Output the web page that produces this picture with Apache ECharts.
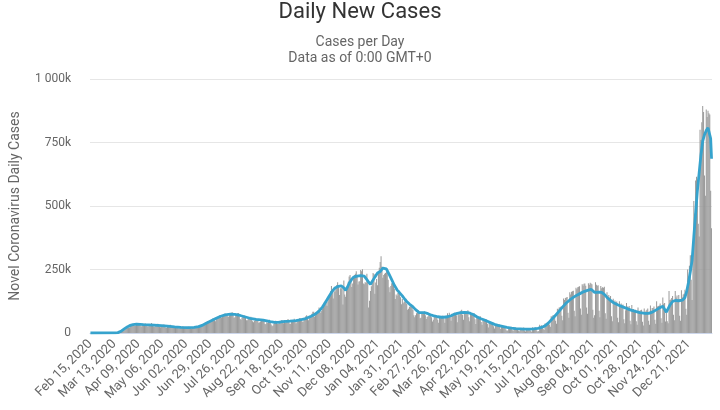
<!DOCTYPE html>
<html><head><meta charset="utf-8">
<script src="https://cdn.jsdelivr.net/npm/echarts/dist/echarts.min.js"></script>
<style>html,body{margin:0;padding:0;background:#fff}#c{width:720px;height:410px}</style>
</head><body><div id="c"></div>
<script>
// first day of the series: Feb 15, 2020
const startDate = [2020, 1, 15];
const monthNames = ['Jan','Feb','Mar','Apr','May','Jun','Jul','Aug','Sep','Oct','Nov','Dec'];

// daily new cases (thousands), one row per week starting Saturday
const dailyCases = [
0,0,0,0,0,0,0,
0,0,0,0,0,0,0,
0,0,0,0,0,0.1,0.1,
0.1,0.1,0.2,0.3,0.4,0.5,0.7,
0.9,1.2,1.8,2.6,4.5,5.7,6.2,
9,10,11,11,13,17,19,
20,20,22,26,29,30,32,
34,29,30,33,34,36,37,
33,27,27,31,33,36,37,
32,27,26,30,33,35,39,
33,27,25,28,31,34,36,
30,25,23,27,29,32,33,
27,22,21,25,28,30,32,
26,20,21,23,26,28,28,
24,20,18,20,22,25,26,
25,20,19,21,22,24,25,
23,19,18,21,23,24,26,
26,20,20,24,27,29,31,
33,28,32,37,38,41,46,
45,40,43,47,52,57,56,
50,46,56,61,62,62,70,
66,61,63,68,70,77,75,
70,66,64,70,78,80,82,
70,60,62,70,75,78,79,
66,55,52,60,64,67,69,
60,50,50,55,57,56,64,
57,46,42,48,51,52,54,
50,40,42,45,48,50,52,
46,35,34,42,40,46,52,
43,33,27,30,37,40,48,
42,36,35,40,42,46,51,
44,38,50,41,42,47,55,
47,36,36,44,44,50,56,
49,37,42,50,52,58,58,
53,45,44,54,60,66,70,
57,50,66,63,63,76,84,
84,64,70,76,81,91,100,
86,80,88,94,107,122,128,
126,107,124,137,145,164,185,
162,136,164,163,172,189,200,
180,150,176,176,184,112,207,
152,143,166,186,202,222,228,
215,181,195,223,228,233,243,
220,191,203,204,248,243,251,
195,192,200,198,233,203,100,
127,165,184,207,236,232,155,
199,213,188,237,257,280,302,
262,218,228,233,236,240,248,
210,180,160,185,196,200,196,
174,134,152,147,157,169,163,
141,113,134,117,123,125,135,
115,92,95,103,104,112,107,
92,70,62,70,78,82,90,
75,58,60,78,80,82,85,
70,55,63,66,74,73,74,
62,45,52,66,64,69,67,
52,40,62,58,66,68,68,
55,40,60,60,78,70,80,
64,48,76,70,75,80,74,
70,42,78,70,84,88,92,
72,52,80,82,86,84,90,
62,46,78,76,75,76,78,
54,35,64,60,62,64,66,
43,32,53,48,51,52,53,
36,22,42,38,43,43,43,
27,18,31,31,32,33,35,
25,16,26,24,27,28,27,
14,9,10,22,22,20,25,
13,8,20,19,22,20,20,
10,7,16,17,17,19,22,
10,6,18,16,17,18,19,
9,5,23,18,18,22,21,
9,5,8,32,25,31,28,
17,12,37,34,37,36,38,
33,25,66,64,70,69,72,
48,36,95,93,100,101,104,
68,50,136,130,138,140,142,
80,60,160,152,162,164,166,
88,66,178,172,180,182,184,
96,72,192,186,194,195,186,
100,76,196,190,198,195,192,
92,60,70,200,190,186,188,
88,62,185,176,180,178,182,
78,56,160,140,150,140,146,
66,46,135,120,128,120,124,
60,42,125,110,116,108,112,
54,38,90,118,104,100,106,
48,34,110,90,94,88,92,
46,32,100,84,88,90,92,
44,30,96,82,88,92,96,
48,32,108,88,98,98,104,
52,36,125,104,106,108,116,
58,40,140,115,118,45,80,
46,38,165,130,132,138,146,
72,50,165,140,148,132,150,
68,48,168,140,152,155,170,
95,72,250,215,265,306,210,
130,345,520,470,600,615,596,
430,380,800,760,830,894,870,
620,540,880,850,875,865,860,
560,412
];

// 7-day moving average (thousands): day index from start, value
const avgDay = [0,28,31,33,35,37,39,42,45,48,52,56,60,66,72,80,87,95,102,110,117,122,126,130,134,138,142,147,152,158,163,169,175,180,187,195,203,208,212,217,225,232,238,243,249,254,258,262,266,269,273,276,280,283,286,288,290,292,295,297,301,305,309,312,314,316,318,321,324,327,330,332,334,337,340,343,346,349,352,355,357,360,363,367,371,374,377,381,385,388,392,396,399,403,407,410,414,418,422,426,429,432,436,440,444,448,452,456,460,465,470,475,480,485,490,495,500,505,509,513,517,521,525,529,533,537,541,545,549,553,557,561,565,567,569,571,574,577,580,583,587,591,595,600,605,610,615,620,626,630,634,638,642,646,648,650,652,654,657,660,664,668,671,673,675,677,679,681,683,685,687,689,691,693,695,697,699,700,701];
const avgCases = [0,0.3,1.5,4,8,13,18,25,30,33,35,34,33,32,31,29,27,24,22,21,22,25,30,37,44,51,58,66,71,74,73,69,63,58,54,51,45,42,42,45,47,49,53,57,66,75,86,103,125,143,165,177,184,186,178,168,180,196,212,220,224,226,224,210,200,192,198,220,236,242,255,258,252,232,210,188,170,158,146,132,124,114,106,92,80,80,80,76,70,67,64,62,62,64,68,73,77,80,81,80,77,73,64,57,52,46,40,34,30,26,22,19,17,16,15,15,16,18,22,28,40,55,70,86,103,118,130,140,149,156,163,168,172,170,160,156,161,160,152,140,128,118,111,104,97,90,85,80,77,77,82,90,98,105,100,82,85,110,124,128,127,129,140,165,200,240,285,380,470,560,630,700,755,780,797,808,815,765,686];

const yTicks = [0, 250, 500, 750, 1000];

const categories = dailyCases.map((_, i) => {
  const d = new Date(Date.UTC(startDate[0], startDate[1], startDate[2] + i));
  return monthNames[d.getUTCMonth()] + ' ' + String(d.getUTCDate()).padStart(2, '0') + ', ' + d.getUTCFullYear();
});

function fmtK(v) {
  if (v === 0) return '0';
  if (v >= 1000) return Math.floor(v / 1000) + ' ' + String(v % 1000).padStart(3, '0') + 'k';
  return v + 'k';
}

const chart = echarts.init(document.getElementById('c'), null, {renderer: 'canvas'});
chart.setOption({
  animation: false,
  textStyle: {fontFamily: 'Roboto'},
  title: [
    {text: 'Daily New Cases', left: 'center', top: 0, padding: [1, 5, 5, 5],
     textStyle: {fontFamily: 'Roboto', fontSize: 22, fontWeight: 'normal', color: '#333'}},
    {text: 'Cases per Day\nData as of 0:00 GMT+0', left: 'center', top: 29,
     textStyle: {fontFamily: 'Roboto', fontSize: 14, fontWeight: 'normal', color: '#666', lineHeight: 16, align: 'center'}}
  ],
  grid: {left: 86, right: 8, top: 79, bottom: 77},
  xAxis: {
    type: 'category',
    data: categories,
    boundaryGap: true,
    axisLine: {lineStyle: {color: '#ccd6eb', width: 1}},
    axisTick: {show: false},
    axisLabel: {interval: 26, rotate: 45, fontSize: 13, color: '#666', margin: 9, fontFamily: 'Roboto'}
  },
  yAxis: {
    type: 'value',
    min: yTicks[0], max: yTicks[yTicks.length - 1], interval: yTicks[1] - yTicks[0],
    name: 'Novel Coronavirus Daily Cases',
    nameLocation: 'middle', nameGap: 68,
    nameTextStyle: {fontSize: 14, color: '#666', fontFamily: 'Roboto'},
    axisLine: {show: false}, axisTick: {show: false},
    axisLabel: {formatter: fmtK, fontSize: 12, color: '#666', margin: 19, fontFamily: 'Roboto'},
    splitLine: {lineStyle: {color: '#e6e6e6', width: 1}}
  },
  series: [
    {type: 'bar', data: dailyCases, barCategoryGap: '12%',
     itemStyle: {color: '#999999'}, z: 2, silent: true},
    {type: 'line', data: avgDay.map((d, j) => [d, avgCases[j]]), showSymbol: false, symbol: 'none',
     lineStyle: {color: '#36a3cd', width: 2.8}, z: 3, silent: true}
  ]
});
</script>
</body></html>
